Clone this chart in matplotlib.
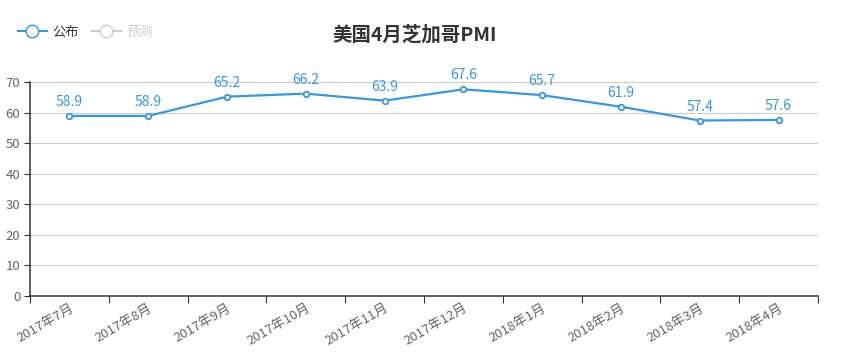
import matplotlib.pyplot as plt
from matplotlib.lines import Line2D

plt.rcParams['font.family'] = ['Noto Sans CJK SC', 'DejaVu Sans']

months = ['2017年7月', '2017年8月', '2017年9月', '2017年10月', '2017年11月',
          '2017年12月', '2018年1月', '2018年2月', '2018年3月', '2018年4月']
published = [58.9, 58.9, 65.2, 66.2, 63.9, 67.6, 65.7, 61.9, 57.4, 57.6]
yticks = [0, 10, 20, 30, 40, 50, 60, 70]

blue = '#3a97de'

fig = plt.figure(figsize=(8.48, 3.62), dpi=100)
ax = fig.add_axes([30 / 848, 66 / 362, 788 / 848, 214 / 362])

x = list(range(len(months)))
ax.plot(x, published, color=blue, lw=1.6, marker='o', ms=4,
        mfc='white', mec=blue, mew=1.3, zorder=3)
for xi, v in zip(x, published):
    ax.annotate(f'{v}', (xi, v), xytext=(0, 5), textcoords='offset points',
                ha='center', va='bottom', color=blue, fontsize=10)

ax.set_xlim(-0.5, len(months) - 0.5)
ax.set_ylim(0, 70)
ax.set_yticks(yticks)
ax.grid(axis='y', color='#cccccc', lw=0.8)
ax.set_axisbelow(True)

ax.set_xticks([i - 0.5 for i in range(len(months) + 1)], minor=False)
ax.set_xticklabels([])
ax.set_xticks(x, minor=True)
ax.set_xticklabels(months, minor=True, rotation=30, ha='right',
                   rotation_mode='anchor', color='#666666', fontsize=9.5)
ax.tick_params(axis='x', which='major', length=5, color='#333333')
ax.tick_params(axis='x', which='minor', length=0, pad=4)
ax.tick_params(axis='y', length=4, color='#333333', labelcolor='#666666',
               labelsize=9.5, pad=3)

for side in ['top', 'right']:
    ax.spines[side].set_visible(False)
for side in ['left', 'bottom']:
    ax.spines[side].set_color('#333333')
    ax.spines[side].set_linewidth(1.1)

fig.text(415 / 848, 1 - 35 / 362, '美国4月芝加哥PMI', ha='center', va='center',
         fontsize=14, fontweight='bold', color='#333333')

handles = [
    Line2D([], [], color=blue, marker='o', ms=9, mfc='white', mec=blue, lw=1.5),
    Line2D([], [], color='#cccccc', marker='o', ms=9, mfc='white', mec='#cccccc', lw=1.5),
]
leg = fig.legend(handles, ['公布', '预测'], loc='center left',
                 bbox_to_anchor=(6 / 848, 1 - 32 / 362), ncol=2, frameon=False,
                 fontsize=9.5, handlelength=2.2, handletextpad=0.4, columnspacing=1.0)
leg.get_texts()[0].set_color('#333333')
leg.get_texts()[1].set_color('#cccccc')

fig.savefig('out.png', dpi=100)
